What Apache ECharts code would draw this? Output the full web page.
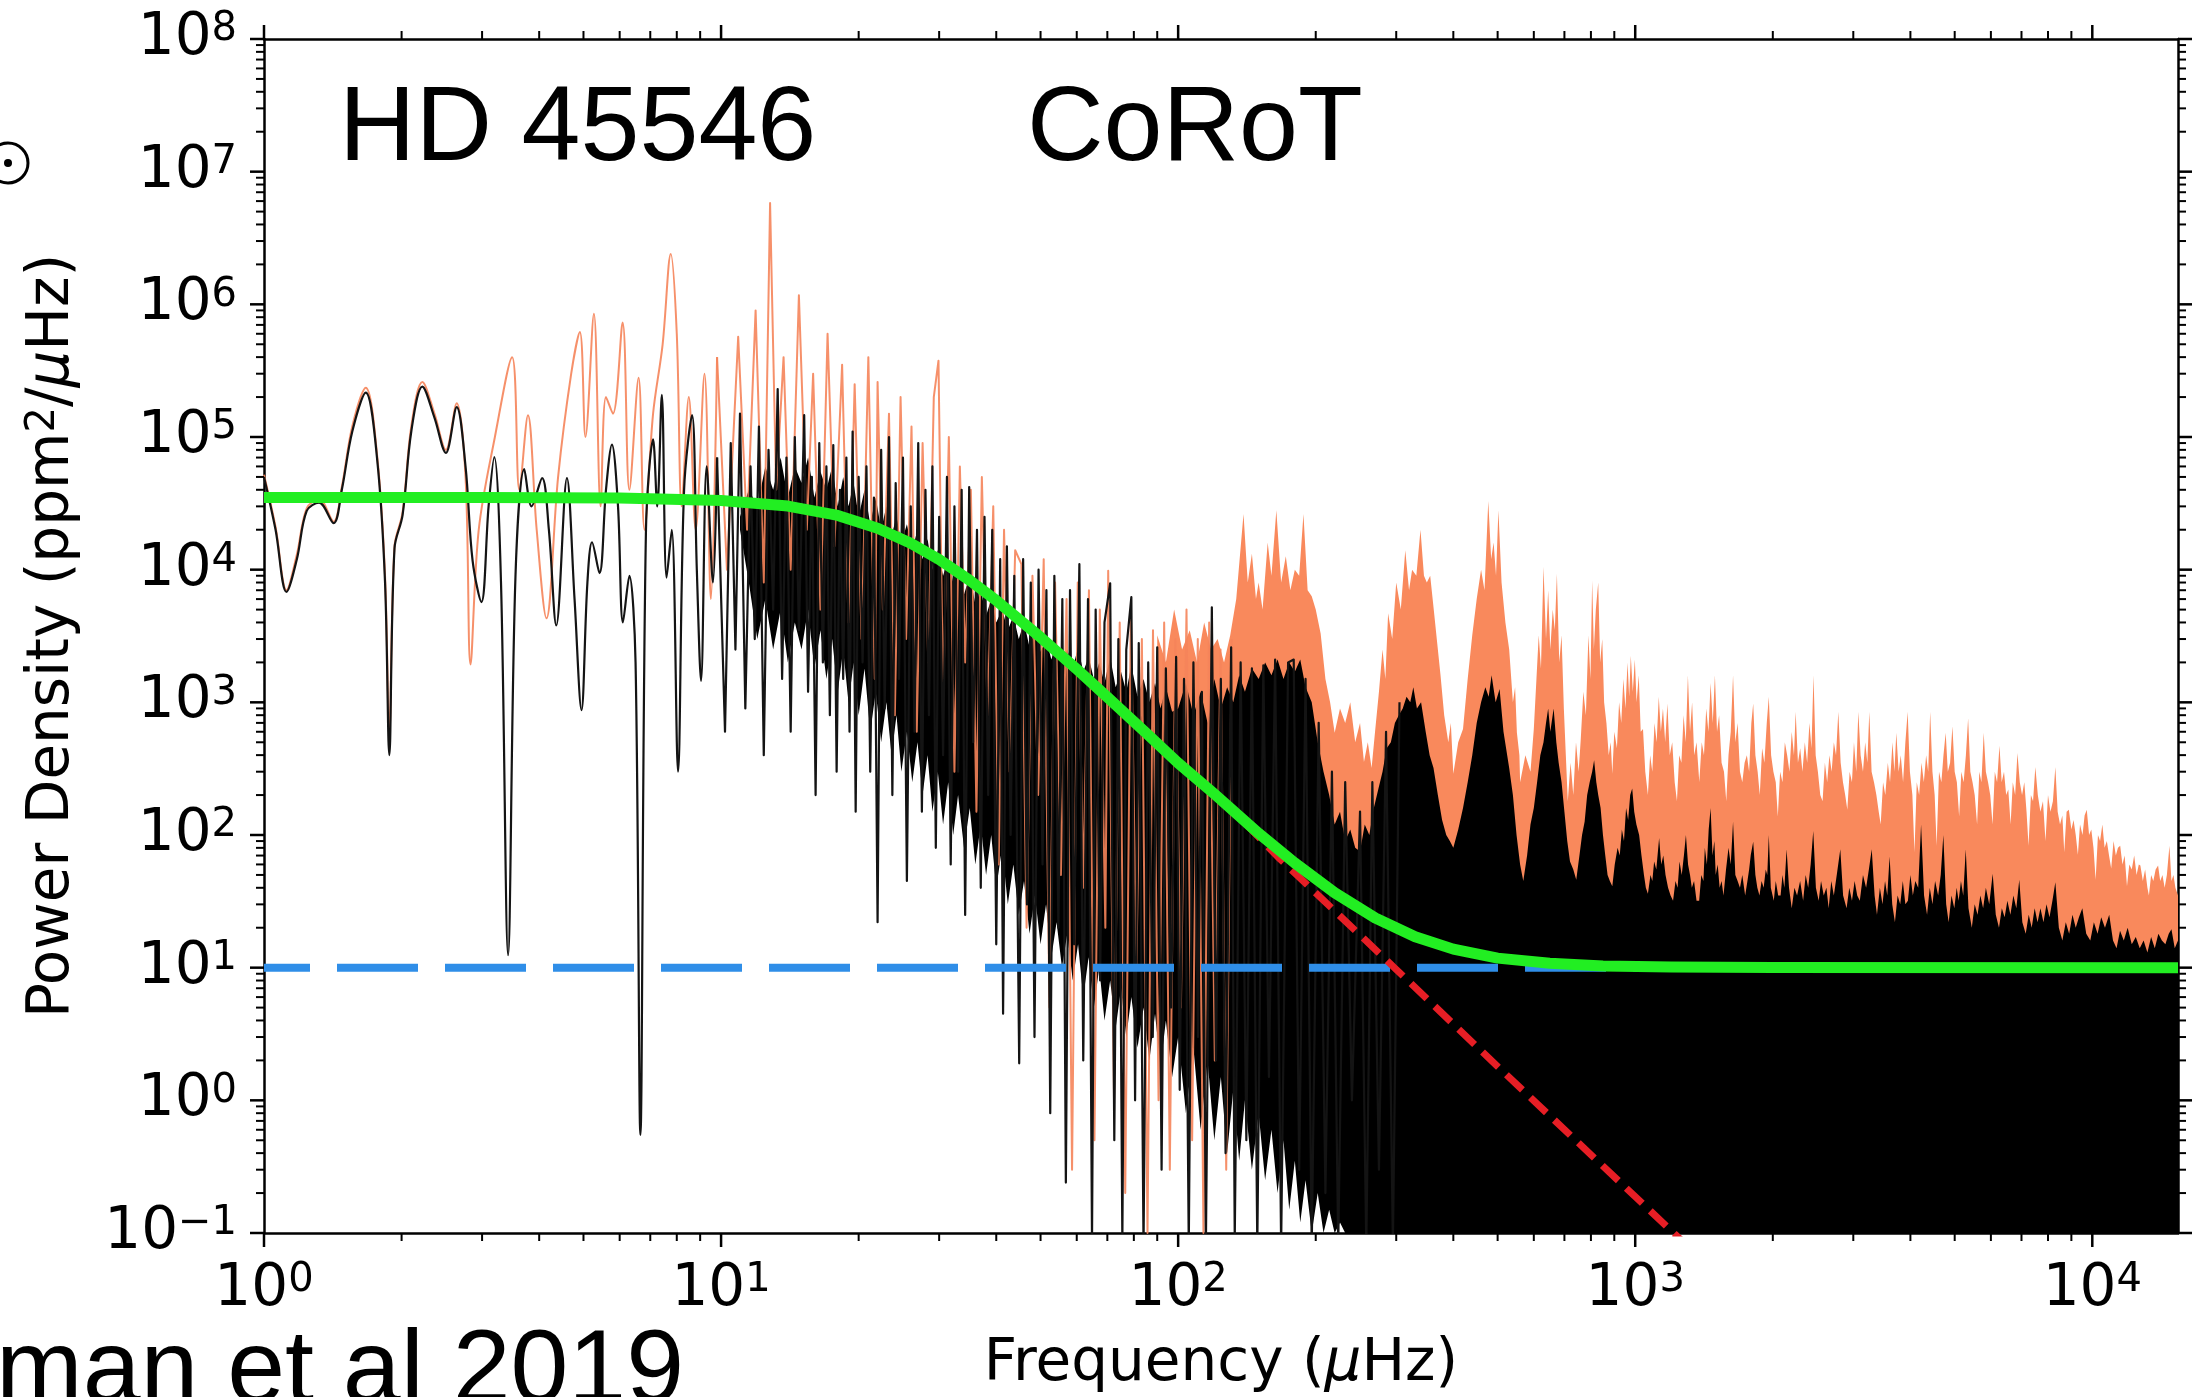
<!DOCTYPE html>
<html>
<head>
<meta charset="utf-8">
<title>HD 45546 CoRoT power density spectrum</title>
<script src="https://cdn.jsdelivr.net/npm/echarts@6/dist/echarts.min.js"></script>
<style>
  body, html { margin: 0; padding: 0; width: 100%; height: 100%; overflow: hidden; background: #fff; }
  #main { width: 2202px; height: 1397px; }
</style>
</head>
<body>
<div id="main"></div>
<script>
// axis ticks: frequency in µHz, power density in ppm^2/µHz
var freqTicks = [1, 10, 100, 1000, 10000];
var powerTicks = [0.1, 1, 10, 100, 1e3, 1e4, 1e5, 1e6, 1e7, 1e8];
var minorSteps = [2, 3, 4, 5, 6, 7, 8, 9];
var freqMax = 15400;
var powerMin = 0.1;

// black spectrum below 10 µHz (f, P)
var blackLow = [
  [1.00, 50000], [1.06, 20000], [1.12, 6800], [1.18, 12000], [1.24, 27700], [1.32, 32000], [1.42, 22400],
  [1.48, 40000], [1.56, 110000], [1.67, 216000], [1.77, 65600], [1.84, 8000], [1.88, 400], [1.93, 14500],
  [2.01, 25800], [2.10, 110000], [2.22, 240000], [2.36, 140000], [2.50, 75900], [2.64, 168000], [2.76, 60000],
  [2.86, 11700], [2.99, 5700], [3.10, 30000], [3.19, 70600], [3.30, 8000], [3.42, 12.4], [3.55, 9000],
  [3.71, 57200], [3.85, 30000], [4.06, 49000], [4.20, 20000], [4.36, 3800], [4.60, 49000], [4.78, 6000],
  [4.95, 875], [5.10, 8000], [5.22, 16100], [5.42, 9400], [5.60, 40000], [5.77, 87700], [5.95, 30000],
  [6.10, 4000], [6.30, 9000], [6.50, 2000], [6.66, 0.55], [6.85, 20000], [7.10, 96000], [7.25, 30000],
  [7.42, 208000], [7.60, 8700], [7.80, 20000], [8.05, 300], [8.30, 40000], [8.64, 146000], [8.85, 10000],
  [9.04, 1450], [9.30, 60000], [9.60, 8000], [9.80, 70000]
];

// black spectrum spikes 10-300 µHz (f, P)
var blackSpikes = [
  [9.80, 70000], [10.2, 600], [10.5, 90000], [10.75, 2500], [11.0, 150000], [11.3, 900], [11.6, 60000], [11.85, 3000],
  [12.1, 120000], [12.4, 400], [12.7, 80000], [13.0, 5000], [13.3, 230000], [13.6, 1500], [13.9, 70000],
  [14.2, 600], [14.5, 100000], [14.8, 3500], [15.2, 146000], [15.5, 1200], [15.8, 50000], [16.1, 200],
  [16.4, 90000], [16.7, 2000], [17.0, 60000], [17.3, 800], [17.6, 87000], [17.9, 300], [18.2, 40000],
  [18.5, 1500], [18.8, 70000], [19.1, 600], [19.4, 110000], [19.7, 150], [20.0, 50000],
  [20.4, 2000], [20.8, 60000], [21.2, 300], [21.6, 35000], [22.0, 22], [22.4, 80000], [22.8, 900],
  [23.3, 100000], [23.7, 200], [24.1, 45000], [24.5, 1500], [25.0, 70000], [25.5, 45], [26.0, 30000],
  [26.5, 600], [27.0, 90000], [27.5, 150], [28.0, 40000], [28.5, 800], [29.0, 60000], [29.5, 80],
  [30.0, 25000], [30.6, 400], [31.2, 50000], [31.8, 60], [32.4, 30000], [33.0, 300], [33.6, 40000],
  [34.2, 25], [34.9, 42000], [35.6, 500], [36.3, 20000], [37.0, 40], [37.7, 25000], [38.4, 200],
  [39.2, 20000], [40.0, 15],
  [40.8, 12000], [41.4, 4.5], [42.2, 15000], [43.0, 100], [43.8, 9000], [44.9, 1.9], [45.8, 12000],
  [46.7, 30], [47.6, 8000], [48.5, 3], [49.5, 10000], [50.5, 60], [51.5, 7000], [52.5, 0.8], [53.6, 9000],
  [54.7, 20], [55.8, 6000], [56.8, 0.24], [58.0, 7000], [59.2, 15], [60.8, 11000], [62.0, 2], [63.5, 6000],
  [64.8, 0.09], [66.0, 5000], [67.5, 8], [69.0, 4000],
  [71.0, 7900], [72.5, 0.5], [74.0, 3000], [75.5, 0.09], [77.0, 2500], [79.0, 6200], [80.5, 1], [82.0, 2800],
  [84.0, 0.08], [86.0, 2000], [88.0, 3], [90.0, 2600], [92.0, 0.3], [94.0, 1800], [96.5, 5], [99.0, 2200],
  [100.8, 1.2], [103, 1500], [105.5, 0.08], [108, 2000], [110.5, 3], [112.7, 1200], [115, 0.08],
  [118.5, 5200], [121, 2], [124, 1500], [127, 0.4], [130.6, 2600],
  [133, 0.09], [137, 2000], [141, 0.5], [145, 1800], [149, 0.08], [153.6, 1900], [158, 1.5], [163, 2100],
  [168, 0.08], [174, 2000], [179, 2100], [184, 0.3], [190, 1500], [196, 0.08], [203, 700], [210, 0.2],
  [217, 300], [224, 0.08], [232, 250], [240, 1.0], [250, 150], [258, 0.08], [266, 250], [275, 0.3],
  [285, 600], [295, 0.08], [305, 1000]
];

// black dense core 11-480 µHz (f, low, high)
var blackCore = [
  [11.0, 20000, 25000], [11.5, 8000, 40000], [12.0, 3000, 30000], [12.5, 6000, 60000], [13.0, 2500, 40000],
  [13.5, 5000, 70000], [14.0, 2000, 35000], [14.5, 4000, 60000], [15.0, 2500, 45000], [15.5, 5000, 70000],
  [16.0, 1800, 35000], [16.5, 3500, 55000], [17.0, 1500, 40000], [17.5, 3000, 60000], [18.0, 1200, 30000],
  [18.5, 2500, 50000], [19.0, 1000, 30000], [19.5, 2000, 45000], [20.0, 800, 25000], [20.6, 1800, 40000],
  [21.2, 600, 22000], [21.8, 1200, 35000], [22.4, 500, 20000], [23.0, 1000, 30000], [23.6, 400, 18000],
  [24.2, 800, 25000], [24.8, 300, 16000], [25.5, 600, 22000], [26.2, 250, 14000], [26.9, 500, 20000],
  [27.6, 200, 12000], [28.3, 400, 17000], [29.0, 150, 10000], [29.8, 300, 14000], [30.6, 120, 9000],
  [31.4, 250, 12000], [32.2, 100, 8000], [33.0, 200, 10000], [34.0, 80, 6500], [35.0, 160, 9000],
  [36.0, 60, 5500], [37.0, 120, 7000], [38.0, 50, 4500], [39.0, 100, 6000], [40.0, 40, 4000],
  [41.2, 80, 5000], [42.4, 30, 3500], [43.6, 60, 4500], [44.8, 25, 3000], [46.0, 45, 4000],
  [47.3, 18, 2600], [48.6, 35, 3500], [50.0, 15, 2400], [51.4, 30, 3000], [52.8, 12, 2100],
  [54.2, 22, 2800], [55.7, 10, 2000], [57.2, 18, 2500], [58.8, 8, 1800], [60.4, 15, 2600],
  [62.0, 6, 1700], [63.7, 12, 2200], [65.4, 5, 1500], [67.2, 10, 2000], [69.0, 4, 1400],
  [71.0, 8, 2200], [73.0, 3.5, 1300], [75.0, 7, 1700], [77.0, 3, 1200], [79.0, 6, 1900],
  [81.5, 2.5, 1100], [84.0, 5, 1500], [86.5, 2, 1000], [89.0, 4.5, 1400], [91.5, 1.8, 900],
  [94.0, 4, 1300], [97.0, 1.5, 850], [100, 3, 900], [104, 0.8, 1400], [108, 2.5, 800],
  [112, 0.6, 1200], [116, 2, 700], [120, 0.5, 1500], [124, 1.5, 900], [128, 0.4, 1300],
  [132, 1.2, 1000], [136, 0.35, 1600], [140, 1, 1200], [145, 0.3, 1800], [150, 0.8, 1500],
  [155, 0.25, 2000], [160, 0.6, 1600], [165, 0.2, 2100], [170, 0.5, 1500], [175, 0.15, 2000],
  [180, 0.35, 1700], [185, 0.12, 2100], [190, 0.25, 1300], [196, 0.1, 1000], [202, 0.2, 500],
  [208, 0.1, 300], [214, 0.15, 200], [220, 0.1, 120], [226, 0.12, 150], [232, 0.1, 90],
  [238, 0.1, 110], [244, 0.1, 80], [250, 0.1, 75], [256, 0.1, 120], [262, 0.1, 100],
  [268, 0.1, 160], [274, 0.1, 220], [280, 0.1, 300], [286, 0.1, 450], [292, 0.1, 500],
  [298, 0.1, 700], [304, 0.1, 800], [310, 0.1, 900], [316, 0.1, 1100], [322, 0.1, 1000],
  [327, 0.1, 1300], [333, 0.1, 900], [340, 0.1, 1000], [348, 0.1, 600], [355, 0.1, 400],
  [362, 0.1, 320], [370, 0.1, 200], [378, 0.1, 130], [386, 0.1, 100], [393, 0.1, 90],
  [400, 0.1, 80], [410, 0.1, 110], [420, 0.1, 160], [430, 0.1, 250], [440, 0.1, 400],
  [450, 0.1, 700], [460, 0.1, 1000], [470, 0.1, 1300], [478, 0.1, 1100]
];

// black upper edge above 480 µHz, filled down to the axis floor (f, high)
var blackEdge = [
  [485, 1600], [495, 1000], [505, 1260], [515, 600], [530, 320], [540, 200], [550, 100], [560, 60], [569, 45],
  [580, 70], [590, 120], [600, 160], [610, 250], [620, 400], [630, 500], [638, 700], [645, 900], [652, 600],
  [663, 900], [672, 500], [680, 350], [690, 250], [700, 150], [710, 90], [720, 63], [732, 55], [743, 46],
  [755, 70], [765, 100], [775, 126], [785, 200], [795, 250], [805, 300], [813, 366], [822, 250], [830, 200],
  [840, 160], [850, 100], [860, 70], [870, 50], [880, 45], [891, 41], [902, 60], [915, 80], [925, 70],
  [935, 110], [945, 90], [955, 160], [965, 130], [975, 200], [985, 224], [995, 150], [1006, 120], [1020, 100],
  [1032, 70], [1045, 50], [1055, 40], [1066, 36], [1080, 50], [1090, 45], [1100, 63], [1112, 55], [1128, 95],
  [1140, 60], [1152, 70], [1165, 50], [1180, 40], [1195, 35], [1210, 32], [1225, 45], [1238, 40], [1250, 63],
  [1264, 50], [1278, 70], [1291, 100], [1305, 60], [1318, 50], [1330, 40], [1345, 45], [1362, 32], [1380, 32],
  [1395, 50], [1410, 45], [1420, 80], [1435, 60], [1448, 110], [1462, 160], [1476, 70], [1490, 90], [1500, 50],
  [1515, 60], [1530, 40], [1545, 45], [1560, 35], [1580, 55], [1600, 80], [1618, 60], [1637, 126], [1656, 50],
  [1675, 45], [1695, 40], [1715, 50], [1740, 35], [1760, 45], [1775, 55], [1790, 71], [1812, 89], [1832, 50],
  [1850, 40], [1870, 35], [1890, 45], [1910, 40], [1930, 55], [1945, 50], [1960, 100], [1980, 40], [2010, 32],
  [2030, 45], [2055, 35], [2080, 35], [2100, 50], [2120, 40], [2144, 78], [2170, 40], [2200, 28], [2230, 40],
  [2260, 35], [2295, 45], [2330, 32], [2360, 50], [2390, 40], [2420, 60], [2452, 107], [2485, 40], [2520, 32],
  [2550, 45], [2585, 35], [2620, 40], [2650, 28], [2685, 45], [2720, 35], [2760, 50], [2810, 78], [2850, 35],
  [2900, 28], [2940, 40], [2980, 32], [3020, 45], [3060, 35], [3100, 32], [3150, 50], [3200, 40], [3245, 55],
  [3292, 78], [3340, 35], [3380, 25], [3430, 40], [3475, 30], [3520, 45], [3560, 35], [3602, 69], [3650, 30],
  [3700, 22], [3750, 35], [3800, 30], [3850, 45], [3900, 30], [3950, 32], [4000, 50], [4050, 35], [4100, 45],
  [4160, 40], [4221, 120], [4285, 35], [4350, 25], [4410, 40], [4470, 30], [4530, 45], [4600, 35], [4660, 50],
  [4722, 100], [4790, 30], [4850, 22], [4920, 35], [4990, 28], [5050, 40], [5100, 32], [5160, 45], [5220, 35],
  [5286, 78], [5360, 28], [5450, 20], [5530, 30], [5610, 25], [5690, 35], [5770, 28], [5850, 40], [5950, 30],
  [6055, 51], [6150, 25], [6250, 20], [6340, 28], [6430, 24], [6520, 32], [6620, 25], [6720, 35], [6820, 28],
  [6922, 46], [7030, 22], [7150, 18], [7260, 25], [7370, 20], [7480, 28], [7590, 22], [7700, 28], [7820, 22],
  [7940, 30], [8060, 24], [8180, 32], [8302, 44], [8450, 20], [8600, 16], [8750, 22], [8900, 18], [9050, 25],
  [9200, 20], [9350, 24], [9510, 28], [9700, 18], [9900, 16], [10080, 22], [10270, 18], [10460, 24], [10660, 20],
  [10890, 25], [11100, 16], [11300, 14], [11500, 19], [11720, 16], [11950, 20], [12200, 15], [12450, 17],
  [12700, 14], [12950, 16], [13200, 13], [13450, 17], [13700, 14], [13950, 18], [14200, 16], [14450, 15],
  [14700, 18], [14900, 19.5], [15150, 14], [15400, 16]
];

// orange spectrum below 10 µHz (f, P)
var orangeLow = [
  [1.00, 52000], [1.06, 21000], [1.12, 7000], [1.18, 13000], [1.24, 29000], [1.32, 34000], [1.42, 23000],
  [1.48, 42000], [1.56, 120000], [1.67, 235000], [1.77, 70000], [1.84, 9000], [1.88, 600], [1.93, 15000],
  [2.01, 27000], [2.10, 120000], [2.22, 260000], [2.36, 150000], [2.50, 80000], [2.64, 180000], [2.76, 50000],
  [2.83, 1930], [2.95, 20000], [3.20, 100000], [3.49, 400000], [3.62, 40000], [3.78, 146000], [3.95, 20000],
  [4.15, 4300], [4.40, 50000], [4.70, 300000], [4.91, 620000], [5.05, 100000], [5.27, 850000], [5.45, 30000],
  [5.60, 200000], [5.80, 150000], [6.09, 730000], [6.30, 40000], [6.60, 280000], [6.80, 20000],
  [7.10, 150000], [7.45, 500000], [7.76, 2400000], [8.00, 600000], [8.20, 30000], [8.50, 200000],
  [8.80, 20000], [9.20, 300000], [9.50, 6000], [9.80, 400000]
];

// orange spectrum spikes 10-130 µHz (f, P)
var orangeSpikes = [
  [9.80, 400000], [10.3, 10000], [10.9, 570000], [11.4, 20000], [11.9, 900000], [12.4, 8000], [12.8, 5800000], [13.2, 40000],
  [13.7, 400000], [14.2, 10000], [14.8, 1170000], [15.4, 20000], [15.9, 300000], [16.5, 5000], [17.1, 600000],
  [17.7, 15000], [18.4, 350000], [19.0, 4000], [19.6, 250000], [20.3, 3000], [21.0, 400000], [21.7, 1500],
  [22.0, 260000], [22.6, 5000], [23.3, 150000], [24.0, 800], [24.7, 200000], [25.4, 3000], [26.1, 120000],
  [26.8, 600], [27.6, 90000], [28.4, 2000], [29.2, 200000], [29.9, 376000], [30.6, 1000], [31.5, 100000],
  [32.4, 300], [33.3, 60000], [34.2, 2000], [35.2, 40000], [36.2, 150], [37.2, 50000], [38.3, 800],
  [39.4, 30000], [40.5, 60], [41.6, 20000], [42.8, 300], [44.0, 14000], [45.4, 11000], [46.6, 20],
  [48.0, 9000], [49.4, 200], [50.8, 12000], [52.3, 5], [53.8, 8000], [55.4, 50], [57.0, 6000], [58.6, 0.3],
  [60.3, 8000], [62.0, 40], [63.8, 7000], [65.6, 0.5], [67.4, 5000], [69.3, 20], [70.3, 9800], [72.4, 1],
  [74.5, 4000], [76.6, 0.2], [78.8, 5000], [81.0, 10], [83.3, 3000], [85.7, 0.1], [88.1, 3500], [90.6, 1],
  [93.2, 4000], [95.9, 0.3], [98.6, 3000], [101.4, 5], [104.3, 5000], [107.3, 0.5], [110.4, 3000],
  [113.6, 0.1], [116.9, 4000], [120.3, 2], [123.8, 2500], [127.4, 0.3], [131, 3000]
];

// orange dense core 90-560 µHz (f, low, high)
var orangeCore = [
  [90, 300, 3200], [94, 300, 2000], [98, 250, 5000], [102, 250, 2500], [106, 220, 3500], [110, 200, 2000],
  [114, 180, 4000], [118, 160, 2500], [122, 150, 3000], [126, 130, 2000], [130, 120, 3200], [134, 110, 6000],
  [139, 100, 26300], [142, 100, 8000], [145, 100, 13200], [148, 100, 6000], [150, 100, 8000], [153, 100, 5000],
  [157, 100, 16000], [160, 100, 9000], [164, 100, 28000], [168, 100, 8000], [172, 100, 12600], [176, 100, 7000],
  [180, 100, 10000], [184, 100, 9000], [188, 100, 26300], [192, 100, 7000], [196, 100, 6300], [200, 90, 5000],
  [205, 80, 3300], [210, 70, 1500], [215, 50, 1000], [220, 40, 590], [226, 35, 900], [232, 30, 700],
  [238, 25, 1000], [244, 20, 500], [250, 15, 700], [255, 12, 355], [260, 10, 500], [265, 8, 320],
  [270, 5, 630], [275, 4, 1200], [280, 3, 2500], [284, 2.5, 1500], [288, 2, 4700], [294, 1.8, 3000],
  [300, 1.5, 8000], [307, 1.2, 5000], [314, 1, 14000], [320, 0.9, 7000], [325, 0.8, 10000], [332, 0.7, 9000],
  [339, 0.6, 20000], [345, 0.5, 9000], [350, 0.4, 8000], [356, 0.35, 9000], [362, 0.3, 5200], [368, 0.25, 3000],
  [375, 0.2, 1600], [382, 0.15, 800], [390, 0.12, 500], [395, 0.1, 700], [400, 0.1, 290], [410, 0.1, 500],
  [420, 0.1, 630], [430, 0.1, 1500], [440, 0.1, 3200], [450, 0.1, 6000], [460, 0.1, 10000], [468, 0.1, 7000],
  [477, 0.1, 33000], [484, 0.1, 12000], [490, 0.1, 16000], [496, 0.1, 9000], [502, 0.1, 28000], [510, 0.1, 8000],
  [520, 0.1, 4000], [530, 0.1, 2500], [540, 0.1, 1000], [546, 0.1, 1300], [551, 0.1, 590], [558, 0.1, 400]
];

// orange upper edge above 560 µHz, filled down to the axis floor (f, high)
var orangeEdge = [
  [560, 250], [575, 400], [590, 300], [600, 630], [608, 1500], [615, 3200], [622, 1800], [630, 10500], [638, 3000],
  [645, 7000], [652, 2500], [660, 5000], [667, 3500], [674, 9300], [682, 2000], [690, 3200], [698, 900], [705, 400],
  [712, 180], [722, 350], [732, 200], [742, 500], [752, 300], [760, 525], [770, 1200], [780, 800], [790, 3200],
  [798, 1500], [805, 8300], [812, 2500], [820, 5000], [830, 8000], [838, 2000], [847, 3000], [855, 1000], [865, 700],
  [875, 400], [884, 500], [891, 290], [900, 600], [912, 450], [922, 1000], [932, 700], [942, 1500], [952, 900],
  [962, 2000], [970, 1100], [978, 2240], [988, 1200], [998, 2100], [1007, 1000], [1018, 1600], [1028, 600],
  [1040, 630], [1052, 300], [1066, 200], [1078, 400], [1090, 300], [1102, 700], [1114, 500], [1126, 1100],
  [1138, 600], [1150, 900], [1163, 500], [1176, 980], [1190, 400], [1205, 500], [1220, 250], [1234, 180],
  [1248, 400], [1262, 350], [1276, 800], [1290, 500], [1304, 1600], [1318, 600], [1332, 1000], [1346, 400],
  [1362, 500], [1381, 250], [1398, 500], [1414, 400], [1430, 900], [1446, 600], [1462, 1400], [1478, 700],
  [1494, 1600], [1510, 600], [1526, 800], [1545, 350], [1564, 300], [1582, 180], [1600, 400], [1618, 600],
  [1637, 1600], [1656, 500], [1675, 700], [1695, 300], [1715, 250], [1735, 350], [1755, 400], [1775, 300],
  [1795, 700], [1812, 980], [1832, 400], [1853, 300], [1873, 200], [1895, 450], [1917, 350], [1940, 700],
  [1960, 1100], [1983, 400], [2006, 300], [2030, 250], [2051, 138], [2075, 300], [2100, 250], [2125, 500],
  [2150, 400], [2175, 300], [2200, 600], [2225, 400], [2244, 850], [2270, 350], [2296, 450], [2322, 300],
  [2350, 500], [2378, 350], [2405, 700], [2430, 450], [2455, 1600], [2482, 400], [2510, 300], [2540, 200],
  [2570, 180], [2600, 350], [2630, 250], [2660, 400], [2690, 300], [2720, 500], [2750, 400], [2782, 850],
  [2815, 350], [2848, 250], [2880, 200], [2911, 155], [2945, 300], [2980, 250], [3010, 500], [3045, 300],
  [3077, 850], [3113, 400], [3150, 300], [3185, 500], [3220, 350], [3252, 850], [3290, 300], [3330, 250],
  [3370, 200], [3410, 150], [3444, 120], [3485, 250], [3525, 200], [3570, 350], [3610, 250], [3655, 500],
  [3690, 300], [3726, 590], [3770, 300], [3810, 400], [3855, 250], [3900, 500], [3945, 850], [3990, 300],
  [4040, 200], [4083, 74], [4130, 250], [4180, 200], [4230, 350], [4280, 250], [4330, 400], [4375, 300],
  [4419, 850], [4470, 300], [4520, 200], [4565, 83], [4620, 300], [4675, 250], [4725, 400], [4778, 590],
  [4830, 300], [4885, 350], [4943, 660], [5000, 300], [5055, 250], [5113, 138], [5170, 300], [5230, 250],
  [5290, 400], [5350, 760], [5410, 300], [5470, 250], [5530, 200], [5597, 120], [5660, 300], [5720, 250],
  [5787, 590], [5850, 300], [5915, 250], [5980, 200], [6050, 120], [6120, 300], [6190, 250], [6265, 470],
  [6335, 250], [6410, 300], [6480, 200], [6550, 220], [6627, 120], [6700, 250], [6780, 200], [6859, 415],
  [6940, 250], [7020, 200], [7100, 250], [7180, 150], [7253, 83], [7340, 200], [7420, 180], [7506, 325],
  [7600, 200], [7700, 150], [7800, 180], [7900, 90], [8000, 200], [8100, 150], [8200, 180], [8302, 325],
  [8400, 150], [8500, 120], [8600, 140], [8683, 74], [8786, 150], [8886, 155], [9000, 110], [9100, 130],
  [9200, 100], [9300, 71], [9400, 120], [9520, 100], [9620, 140], [9726, 155], [9840, 100], [9950, 110],
  [10060, 80], [10170, 46], [10290, 100], [10400, 90], [10520, 120], [10640, 80], [10760, 90], [10880, 70],
  [11000, 56], [11130, 90], [11260, 70], [11380, 80], [11510, 83], [11640, 60], [11770, 70], [11910, 41],
  [12050, 60], [12200, 55], [12350, 70], [12500, 50], [12640, 60], [12740, 59], [12900, 45], [13050, 55],
  [13200, 40], [13300, 35], [13450, 50], [13600, 45], [13760, 55], [13930, 59], [14080, 45], [14240, 50],
  [14400, 40], [14560, 50], [14750, 83], [14900, 45], [15050, 50], [15200, 40], [15400, 35]
];

// fitted background (green), granulation component (red), white noise (blue)
var fitModel = [
  [1, 35000], [3, 34960], [6, 34650], [10, 33230], [14, 30170], [18, 25620], [22, 20550], [26, 15800],
  [30, 11920], [35, 8310], [40, 5860], [50, 3094], [60, 1780], [70, 1095], [85, 590], [100, 349],
  [120, 204], [150, 103], [180, 61.5], [220, 36.7], [270, 23.7], [330, 17.1], [400, 13.8], [500, 11.8],
  [650, 10.8], [850, 10.3], [1200, 10.1], [2000, 10.03], [15400, 10]
];
var granulation = [[140, 123], [167, 66], [300, 9.7], [500, 1.8], [1300, 0.08]];
var whiteNoise = [[1, 10], [15400, 10]];

var FONT = 'DejaVu Sans';

function powerLabel(v) {
  var e = Math.log10(v);
  var r = Math.round(e);
  if (Math.abs(e - r) > 1e-6) return '';
  return '{b|10}{s|' + (r < 0 ? '\u2212' + (-r) : r) + '}';
}

var labelRich = {
  b: { fontFamily: FONT, fontSize: 58, lineHeight: 58, color: '#000' },
  s: { fontFamily: FONT, fontSize: 40, lineHeight: 24, verticalAlign: 'top', color: '#000' }
};

// one filled polygon per spectrum: rows with (f, low, high) or (f, high) down to the axis floor
function bandItem(rows, color) {
  return function (params, api) {
    if (params.dataIndex !== 0) return null;
    var upper = [], lower = [];
    rows.forEach(function (r) {
      var hi = r[r.length - 1];
      var lo = r.length > 2 ? r[1] : powerMin;
      upper.push(api.coord([r[0], hi]));
      lower.push(api.coord([r[0], lo]));
    });
    return { type: 'polygon', shape: { points: upper.concat(lower.reverse()) }, style: { fill: color } };
  };
}

function minorValues(majors, maxValue) {
  var out = [];
  majors.forEach(function (m) {
    minorSteps.forEach(function (s) { if (m * s < maxValue) out.push(m * s); });
  });
  return out;
}

function tickItem(params, api) {
  var cs = params.coordSys;
  var left = cs.x, right = cs.x + cs.width, top = cs.y, bottom = cs.y + cs.height;
  var children = [];
  function add(x1, y1, x2, y2, w) {
    children.push({ type: 'line', shape: { x1: x1, y1: y1, x2: x2, y2: y2 }, style: { stroke: '#000', lineWidth: w } });
  }
  freqTicks.forEach(function (v) {
    var x = api.coord([v, 1])[0];
    add(x, bottom, x, bottom + 14, 2.5); add(x, top, x, top - 14, 2.5);
  });
  minorValues(freqTicks, freqMax).forEach(function (v) {
    var x = api.coord([v, 1])[0];
    add(x, bottom, x, bottom + 8, 2); add(x, top, x, top - 8, 2);
  });
  powerTicks.forEach(function (v) {
    var y = api.coord([1, v])[1];
    add(left, y, left - 14, y, 2.5); add(right, y, right + 14, y, 2.5);
  });
  minorValues(powerTicks, 1e8).forEach(function (v) {
    var y = api.coord([1, v])[1];
    add(left, y, left - 8, y, 2); add(right, y, right + 8, y, 2);
  });
  return { type: 'group', children: children };
}

function bandSeries(name, rows, color) {
  return {
    name: name, type: 'custom', coordinateSystem: 'cartesian2d', silent: true,
    data: [[rows[0][0], rows[0][rows[0].length - 1]]], renderItem: bandItem(rows, color)
  };
}

function lineSeries(name, data, style, smooth) {
  return {
    name: name, type: 'line', data: data, showSymbol: false, symbol: 'none', silent: true,
    smooth: smooth || false, lineStyle: style
  };
}

var axisLineStyle = { show: true, onZero: false, lineStyle: { color: '#000', width: 2.5 } };

var chart = echarts.init(document.getElementById('main'), null, { renderer: 'canvas' });
chart.setOption({
  animation: false,
  backgroundColor: '#fff',
  textStyle: { fontFamily: FONT },
  grid: { left: 264, right: 24, top: 39, bottom: 164, containLabel: false, outerBoundsMode: 'none' },
  xAxis: [{
    type: 'log', logBase: 10, min: 1, max: freqMax, position: 'bottom',
    axisLine: axisLineStyle, axisTick: { show: false }, splitLine: { show: false }, minorTick: { show: false },
    axisLabel: { show: true, margin: 28, formatter: powerLabel, rich: labelRich, showMinLabel: true, showMaxLabel: true },
    name: 'Frequency ({i|\u03bc}Hz)', nameLocation: 'middle', nameGap: 103,
    nameTextStyle: {
      fontFamily: FONT, fontSize: 58, lineHeight: 58, color: '#000',
      rich: { i: { fontFamily: FONT, fontSize: 58, lineHeight: 58, fontStyle: 'italic', color: '#000' } }
    }
  }, {
    type: 'log', logBase: 10, min: 1, max: freqMax, position: 'top',
    axisLine: axisLineStyle, axisTick: { show: false }, axisLabel: { show: false }, splitLine: { show: false }
  }],
  yAxis: [{
    type: 'log', logBase: 10, min: powerMin, max: 1e8, position: 'left',
    axisLine: axisLineStyle, axisTick: { show: false }, splitLine: { show: false }, minorTick: { show: false },
    axisLabel: { show: true, margin: 27, formatter: powerLabel, rich: labelRich, showMinLabel: true, showMaxLabel: true },
    name: 'Power Density (ppm{s|2}/{i|\u03bc}Hz)', nameLocation: 'middle', nameGap: 182,
    nameTextStyle: {
      fontFamily: FONT, fontSize: 58, lineHeight: 58, color: '#000',
      rich: {
        s: { fontFamily: FONT, fontSize: 40, lineHeight: 24, verticalAlign: 'top', color: '#000' },
        i: { fontFamily: FONT, fontSize: 58, lineHeight: 58, fontStyle: 'italic', color: '#000' }
      }
    }
  }, {
    type: 'log', logBase: 10, min: powerMin, max: 1e8, position: 'right',
    axisLine: axisLineStyle, axisTick: { show: false }, axisLabel: { show: false }, splitLine: { show: false }
  }],
  graphic: [
    { type: 'text', x: 339, y: 78, style: { text: 'HD 45546', font: '106px "Liberation Sans"', fill: '#000', align: 'left', verticalAlign: 'top' } },
    { type: 'text', x: 1027, y: 78, style: { text: 'CoRoT', font: '106px "Liberation Sans"', fill: '#000', align: 'left', verticalAlign: 'top' } },
    { type: 'text', x: -4, y: 1321, style: { text: 'man et al 2019', font: '104px "Liberation Sans"', fill: '#000', align: 'left', verticalAlign: 'top' } },
    { type: 'circle', shape: { cx: 8, cy: 163, r: 20 }, style: { fill: 'none', stroke: '#000', lineWidth: 3 } },
    { type: 'circle', shape: { cx: 8, cy: 163, r: 4 }, style: { fill: '#000' } }
  ],
  series: [
    bandSeries('orange dense', orangeCore.concat(orangeEdge), '#f9895c'),
    lineSeries('orange low', orangeLow, { color: '#f5845a', width: 2, join: 'round', opacity: 0.9 }, 0.35),
    lineSeries('orange', orangeSpikes, { color: '#f5845a', width: 2, join: 'round', opacity: 0.9 }),
    bandSeries('black dense', blackCore.concat(blackEdge), '#000'),
    lineSeries('black low', blackLow, { color: '#141414', width: 2.2, join: 'round' }, 0.35),
    lineSeries('black', blackSpikes, { color: '#141414', width: 2.2, join: 'round' }),
    lineSeries('white noise', whiteNoise, { color: '#2f8ee8', width: 8, type: [81, 27], dashOffset: 35 }),
    lineSeries('granulation', granulation, { color: '#e61e25', width: 7, type: [22, 11] }),
    lineSeries('fit', fitModel, { color: '#22ee22', width: 11, join: 'round' }),
    {
      name: 'ticks', type: 'custom', coordinateSystem: 'cartesian2d', silent: true, z: 10,
      data: [[1, 1]], renderItem: tickItem
    }
  ]
});
</script>
</body>
</html>
